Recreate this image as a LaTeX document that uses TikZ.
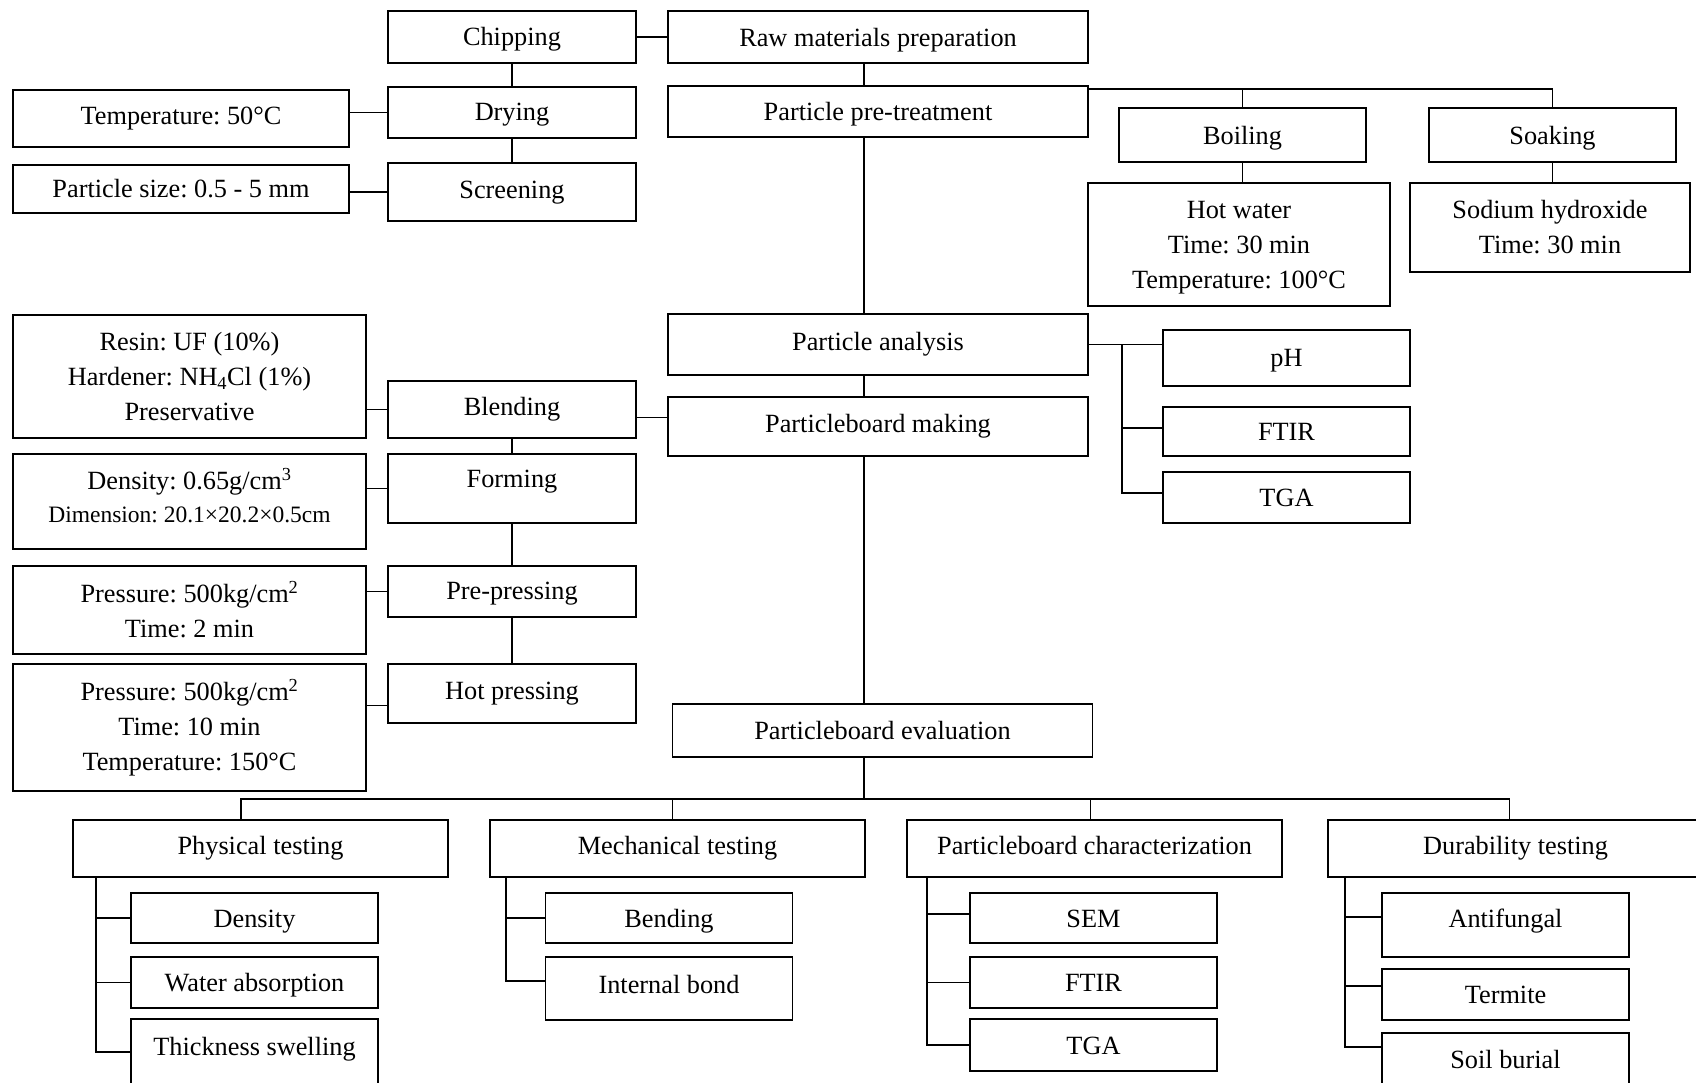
\documentclass[tikz,border=0pt]{standalone}
\usepackage{fontspec}
\setmainfont{Liberation Serif}
\usetikzlibrary{positioning}
\frenchspacing

\tikzstyle{box} = [rectangle, draw=black, line width=1.8pt, inner sep=0pt, outer sep=0pt, text centered]
\tikzstyle{mainbox} = [box, minimum width=420pt, text height=21pt, text depth=3pt]
\tikzstyle{process} = [box, minimum width=248pt, text height=20pt, text depth=4pt]
\tikzstyle{setting} = [box, align=center]
\tikzstyle{category} = [box, minimum width=375pt, minimum height=57pt, text height=18pt, text depth=6pt]
\tikzstyle{testbox} = [box, minimum width=247pt, text height=21pt, text depth=3pt]
\tikzstyle{link} = [line width=1.6pt]

\begin{document}
\begin{tikzpicture}[x=1pt, y=1pt, font=\fontsize{26.3}{35}\selectfont]
        \useasboundingbox (0,0) rectangle (1696,-1082);
        \clip (0,0) rectangle (1696,-1082);

        % main column
        \node (raw) [mainbox, minimum height=52pt] at (878,-37) {Raw materials preparation};
        \node (pretreat) [mainbox, minimum height=51pt, below=23pt of raw] {Particle pre-treatment};
        \node (analysis) [mainbox, minimum height=61pt, below=177pt of pretreat, text height=18pt, text depth=6pt] {Particle analysis};
        \node (making) [mainbox, minimum height=59pt, below=22pt of analysis, text height=18pt, text depth=6pt] {Particleboard making};
        \node (evaluation) [mainbox, minimum height=53pt, below=248pt of making, xshift=4.5pt] {Particleboard evaluation};

        % raw material steps
        \node (chipping) [process, minimum height=52pt, left=32pt of raw] {Chipping};
        \node (drying) [process, minimum height=51pt, below=24pt of chipping] {Drying};
        \node (screening) [process, minimum height=58pt, below=25pt of drying, text height=18pt, text depth=6pt] {Screening};
        \node (dryset) [setting, minimum width=336pt, minimum height=57pt, left=39pt of drying, yshift=-6pt] {Temperature: 50°C};
        \node (screenset) [setting, minimum width=336pt, minimum height=48pt, left=39pt of screening, yshift=3pt] {Particle size: 0.5 - 5 mm};

        % board making steps
        \node (blending) [process, minimum height=57pt, below=160pt of screening, text height=18pt, text depth=6pt] {Blending};
        \node (forming) [process, minimum height=69pt, below=16pt of blending, text depth=22pt] {Forming};
        \node (prepress) [process, minimum height=51pt, below=43pt of forming] {Pre-pressing};
        \node (hotpress) [process, minimum height=59pt, below=47pt of prepress, text height=18pt, text depth=7pt] {Hot pressing};
        \node (blendset) [setting, minimum width=353pt, minimum height=123pt, left=22pt of blending, yshift=33pt] {Resin: UF (10\%)\\Hardener: NH\textsubscript{4}Cl (1\%)\\Preservative};
        \node (formset) [setting, minimum width=353pt, minimum height=95pt, left=22pt of forming, yshift=-13pt, text depth=13pt] {Density: 0.65g/cm\textsuperscript{3}\\[-2pt]{\fontsize{23.5}{30}\selectfont Dimension: 20.1×20.2×0.5cm}};
        \node (preset) [setting, minimum width=353pt, minimum height=88pt, left=22pt of prepress, yshift=-18.5pt] {Pressure: 500kg/cm\textsuperscript{2}\\Time: 2 min};
        \node (hotset) [setting, minimum width=353pt, minimum height=127pt, left=22pt of hotpress, yshift=-34pt] {Pressure: 500kg/cm\textsuperscript{2}\\Time: 10 min\\Temperature: 150°C};

        % pre-treatment
        \node (boiling) [testbox, minimum height=54pt, right=31pt of pretreat, yshift=-23.5pt] {Boiling};
        \node (soaking) [testbox, minimum height=54pt, right=63pt of boiling] {Soaking};
        \node (boilset) [setting, minimum width=302pt, minimum height=123pt, below=21pt of boiling, xshift=-3.5pt, text depth=0pt] {Hot water\\Time: 30 min\\Temperature: 100°C};
        \node (soakset) [setting, minimum width=280pt, minimum height=89pt, below=21pt of soaking, xshift=-2.5pt] {Sodium hydroxide\\Time: 30 min};

        % particle analysis
        \node (ph) [testbox, minimum height=56pt, right=75pt of analysis, yshift=-13.5pt, text depth=5pt] {pH};
        \node (ftir) [testbox, minimum height=49pt, below=21pt of ph] {FTIR};
        \node (tga) [testbox, minimum height=51pt, below=16pt of ftir] {TGA};

        % evaluation
        \node (physical) [category] at (260.5,-848.5) {Physical testing};
        \node (mechanical) [category, right=42pt of physical] {Mechanical testing};
        \node (charact) [category, right=42pt of mechanical] {Particleboard characterization};
        \node (durability) [category, right=46pt of charact] {Durability testing};

        \node (density) [testbox, minimum height=50pt, below=16pt of physical, xshift=-6pt] {Density};
        \node (water) [testbox, minimum height=51pt, below=14pt of density] {Water absorption};
        \node (swelling) [testbox, minimum height=91pt, below=11pt of water, text depth=40pt] {Thickness swelling};
        \node (bending) [testbox, minimum height=50pt, below=16pt of mechanical, xshift=-8.5pt] {Bending};
        \node (bond) [testbox, minimum height=63pt, below=14pt of bending, text height=18pt, text depth=8pt] {Internal bond};
        \node (sem) [testbox, minimum height=50pt, below=16pt of charact, xshift=-1pt] {SEM};
        \node (ftirb) [testbox, minimum height=51pt, below=14pt of sem] {FTIR};
        \node (tgab) [testbox, minimum height=52pt, below=11pt of ftirb] {TGA};
        \node (fungal) [testbox, minimum height=64pt, below=16pt of durability, xshift=-10pt, text depth=17pt] {Antifungal};
        \node (termite) [testbox, minimum height=51pt, below=12pt of fungal] {Termite};
        \node (soil) [testbox, minimum height=77pt, below=13pt of termite, text depth=28pt] {Soil burial};

        % main spine
        \draw [link] ([xshift=-14pt]raw.south) -- ([xshift=-14pt]pretreat.north);
        \draw [link] ([xshift=-14pt]pretreat.south) -- ([xshift=-14pt]analysis.north);
        \draw [link] ([xshift=-14pt]analysis.south) -- ([xshift=-14pt]making.north);
        \draw [link] ([xshift=-14pt]making.south) -- ([xshift=-18.5pt]evaluation.north);
        \coordinate (hub) at ([xshift=-18.5pt, yshift=-42pt]evaluation.south);
        \draw [link] ([xshift=-18.5pt]evaluation.south) -- (hub);
        \draw [link] (hub) -| ([xshift=-19.5pt]physical.north);
        \draw [link] (hub) -| ([xshift=-5pt]mechanical.north);
        \draw [link] (hub) -| ([xshift=-4pt]charact.north);
        \draw [link] (hub) -| ([xshift=-6pt]durability.north);

        % left side
        \draw [link] (chipping.east) -- (chipping.east -| raw.west);
        \draw [link] (chipping) -- (drying);
        \draw [link] (drying) -- (screening);
        \draw [link] (drying.west) -- (drying.west -| dryset.east);
        \draw [link] (screening.west) -- (screening.west -| screenset.east);
        \draw [link] (blending.west) -- (blending.west -| blendset.east);
        \draw [link] ([yshift=-8pt]blending.east) -- ([yshift=-8pt]blending.east -| making.west);
        \draw [link] (blending) -- (forming);
        \draw [link] (forming) -- (prepress);
        \draw [link] (prepress) -- (hotpress);
        \draw [link] (forming.west) -- (forming.west -| formset.east);
        \draw [link] (prepress.west) -- (prepress.west -| preset.east);
        \draw [link] ([yshift=-12pt]hotpress.west) -- ([yshift=-12pt]hotpress.west -| hotset.east);

        % pre-treatment branch
        \coordinate (split) at ([yshift=-3pt]pretreat.north east);
        \draw [link] (split) -| (boiling.north);
        \draw [link] (split) -| (soaking.north);
        \draw [link] (boiling.south) -- (boiling.south |- boilset.north);
        \draw [link] (soaking.south) -- (soaking.south |- soakset.north);

        % analysis branch
        \draw [link] (analysis.east) -- (analysis.east -| ph.west);
        \coordinate (abr) at ([xshift=34pt]analysis.east);
        \draw [link] (abr) |- ([yshift=3.5pt]ftir.west);
        \draw [link] (abr) |- ([yshift=4.5pt]tga.west);

        % test brackets
        \coordinate (pbr) at ([xshift=23pt]physical.south west);
        \draw [link] (pbr) |- (density.west);
        \draw [link] (pbr) |- (water.west);
        \draw [link] (pbr) |- ([yshift=-33pt]swelling.north west);
        \coordinate (mbr) at ([xshift=16pt]mechanical.south west);
        \draw [link] (mbr) |- (bending.west);
        \draw [link] (mbr) |- ([yshift=7.5pt]bond.west);
        \coordinate (cbr) at ([xshift=20pt]charact.south west);
        \draw [link] (cbr) |- ([yshift=4pt]sem.west);
        \draw [link] (cbr) |- (ftirb.west);
        \draw [link] (cbr) |- (tgab.west);
        \coordinate (dbr) at ([xshift=17pt]durability.south west);
        \draw [link] (dbr) |- ([yshift=8pt]fungal.west);
        \draw [link] (dbr) |- ([yshift=8.5pt]termite.west);
        \draw [link] (dbr) |- ([yshift=-14pt]soil.north west);
    \end{tikzpicture}
\end{document}
